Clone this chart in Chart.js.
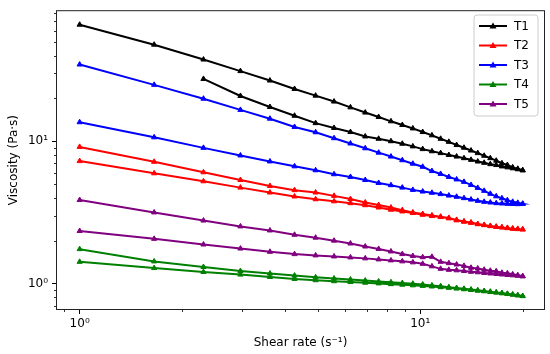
<!DOCTYPE html>
<html>
<head>
<meta charset="utf-8">
<script src="https://cdn.jsdelivr.net/npm/chart.js@4/dist/chart.umd.min.js"></script>
<style>
  html, body { margin: 0; padding: 0; background: #fff; }
  #wrap { width: 550px; height: 354px; }
</style>
</head>
<body>
<div id="wrap"><canvas id="c" width="550" height="354"></canvas></div>
<script>
// ---- data ----
const shearRate = [1.000, 1.655, 2.310, 2.966, 3.621, 4.276, 4.931, 5.586, 6.241, 6.897,
                   7.552, 8.207, 8.862, 9.517, 10.172, 10.828, 11.483, 12.138, 12.793, 13.448,
                   14.103, 14.759, 15.414, 16.069, 16.724, 17.379, 18.034, 18.690, 19.345, 20.000];

const seriesNames = ['T1', 'T2', 'T3', 'T4', 'T5'];

// upward sweep (increasing shear rate)
const t1Up = [65.9, 47.7, 37.5, 31.1, 26.7, 23.3, 20.9, 19.0, 17.3, 15.9, 14.8, 13.8, 13.0, 12.3, 11.6,
              11.0, 10.4, 9.9, 9.4, 9.0, 8.6, 8.25, 7.9, 7.6, 7.3, 7.0, 6.8, 6.55, 6.4, 6.25];
const t2Up = [9.12, 7.17, 6.05, 5.34, 4.85, 4.53, 4.36, 4.13, 3.92, 3.71, 3.56, 3.42, 3.28, 3.16, 3.08,
              3.01, 2.95, 2.89, 2.80, 2.73, 2.68, 2.62, 2.58, 2.54, 2.51, 2.48, 2.46, 2.43, 2.42, 2.40];
const t3Up = [34.6, 24.9, 19.9, 16.6, 14.4, 12.6, 11.56, 10.5, 9.64, 8.92, 8.31, 7.80, 7.35, 6.95, 6.61,
              6.17, 5.89, 5.61, 5.39, 5.18, 4.93, 4.70, 4.48, 4.27, 4.10, 3.97, 3.85, 3.75, 3.69, 3.63];
const t4Up = [1.744, 1.43, 1.306, 1.224, 1.174, 1.137, 1.106, 1.085, 1.066, 1.049, 1.034, 1.021, 1.008, 0.997, 0.984,
              0.970, 0.958, 0.942, 0.930, 0.918, 0.907, 0.895, 0.885, 0.875, 0.865, 0.856, 0.846, 0.837, 0.826, 0.816];
const t5Up = [3.86, 3.16, 2.77, 2.52, 2.36, 2.20, 2.10, 2.00, 1.91, 1.82, 1.75, 1.68, 1.61, 1.56, 1.53,
              1.54, 1.42, 1.39, 1.36, 1.33, 1.29, 1.275, 1.25, 1.23, 1.22, 1.19, 1.18, 1.16, 1.145, 1.125];

// downward sweep (listed at the same shear rates, low to high)
const t1Down = [null, null, 27.4, 20.8, 17.4, 15.1, 13.4, 12.4, 11.6, 10.8, 10.4, 10.0, 9.6, 9.2, 8.8,
                8.5, 8.25, 8.0, 7.8, 7.6, 7.4, 7.2, 7.05, 6.9, 6.8, 6.65, 6.55, 6.45, 6.35, 6.25];
const t2Down = [7.25, 5.95, 5.23, 4.72, 4.36, 4.09, 3.91, 3.78, 3.67, 3.55, 3.42, 3.30, 3.21, 3.13, 3.04,
                2.98, 2.93, 2.87, 2.78, 2.72, 2.67, 2.61, 2.57, 2.53, 2.50, 2.48, 2.45, 2.43, 2.41, 2.40];
const t3Down = [13.6, 10.65, 8.98, 7.94, 7.21, 6.66, 6.25, 5.86, 5.61, 5.34, 5.09, 4.91, 4.72, 4.55, 4.43,
                4.34, 4.25, 4.15, 4.07, 3.98, 3.89, 3.81, 3.75, 3.71, 3.67, 3.65, 3.63, 3.62, 3.61, 3.63];
const t4Down = [1.42, 1.284, 1.205, 1.155, 1.112, 1.077, 1.054, 1.038, 1.024, 1.013, 1.002, 0.990, 0.981, 0.971, 0.962,
                0.953, 0.942, 0.932, 0.921, 0.911, 0.901, 0.891, 0.882, 0.873, 0.864, 0.854, 0.845, 0.835, 0.826, 0.816];
const t5Down = [2.34, 2.06, 1.88, 1.76, 1.67, 1.609, 1.576, 1.550, 1.526, 1.502, 1.477, 1.454, 1.431, 1.408, 1.375,
                1.320, 1.268, 1.248, 1.238, 1.224, 1.209, 1.199, 1.186, 1.176, 1.167, 1.157, 1.148, 1.141, 1.132, 1.125];

const seriesColors = ['#000000', '#ff0000', '#0000ff', '#008000', '#800080'];

// axis ticks
const xMajorTicks = [1, 10];
const xMinorTicks = [0.9, 2, 3, 4, 5, 6, 7, 8, 9, 20];
const yMajorTicks = [1, 10];
const yMinorTicks = [0.7, 0.8, 0.9, 2, 3, 4, 5, 6, 7, 8, 9, 20, 30, 40, 50, 60, 70, 80];
const tickLabelText = { 1: '10\u2070', 10: '10\u00B9' };

const xTitle = 'Shear rate (s\u207B\u00B9)';
const yTitle = 'Viscosity (Pa\u00B7s)';

// ---- build datasets: each series is one loop (up sweep then down sweep) ----
const ups = [t1Up, t2Up, t3Up, t4Up, t5Up];
const downs = [t1Down, t2Down, t3Down, t4Down, t5Down];

function loopPoints(up, down) {
  const pts = up.map((y, i) => ({ x: shearRate[i], y: y }));
  for (let i = down.length - 1; i >= 0; i--) {
    if (down[i] !== null) pts.push({ x: shearRate[i], y: down[i] });
  }
  return pts;
}

const datasets = seriesNames.map((name, s) => ({
  label: name,
  data: loopPoints(ups[s], downs[s]),
  borderColor: seriesColors[s],
  backgroundColor: seriesColors[s],
  pointBackgroundColor: seriesColors[s],
  pointBorderColor: seriesColors[s],
  borderWidth: 2,
  pointStyle: 'triangle',
  pointRadius: 3,
  pointBorderWidth: 1,
  tension: 0,
  fill: false
}));

const FONT = 'DejaVu Sans';

const framePlugin = {
  id: 'frame',
  afterDraw(chart) {
    const { ctx, chartArea: a, scales } = chart;
    ctx.save();
    // minor ticks
    ctx.strokeStyle = '#000';
    ctx.lineWidth = 0.8;
    ctx.beginPath();
    xMinorTicks.forEach(v => {
      const px = Math.round(scales.x.getPixelForValue(v)) + 0.5;
      ctx.moveTo(px, a.bottom); ctx.lineTo(px, a.bottom + 3);
    });
    yMinorTicks.forEach(v => {
      const py = Math.round(scales.y.getPixelForValue(v)) + 0.5;
      ctx.moveTo(a.left, py); ctx.lineTo(a.left - 3, py);
    });
    ctx.stroke();
    // frame
    ctx.lineWidth = 1;
    ctx.strokeStyle = '#222';
    ctx.strokeRect(a.left - 0.5, a.top - 0.5, a.right - a.left + 1, a.bottom - a.top + 1);

    // legend (upper right, inside the axes)
    const bx = 474, by = 15, bw = 64, bh = 101, r = 3;
    ctx.beginPath();
    ctx.moveTo(bx + r, by);
    ctx.lineTo(bx + bw - r, by); ctx.quadraticCurveTo(bx + bw, by, bx + bw, by + r);
    ctx.lineTo(bx + bw, by + bh - r); ctx.quadraticCurveTo(bx + bw, by + bh, bx + bw - r, by + bh);
    ctx.lineTo(bx + r, by + bh); ctx.quadraticCurveTo(bx, by + bh, bx, by + bh - r);
    ctx.lineTo(bx, by + r); ctx.quadraticCurveTo(bx, by, bx + r, by);
    ctx.closePath();
    ctx.fillStyle = 'rgba(255,255,255,0.8)';
    ctx.fill();
    ctx.strokeStyle = '#cccccc';
    ctx.lineWidth = 1;
    ctx.stroke();

    ctx.font = '12px "' + FONT + '"';
    ctx.textBaseline = 'middle';
    ctx.textAlign = 'left';
    chart.data.datasets.forEach((ds, i) => {
      const cy = 26 + i * 19.5;
      ctx.strokeStyle = ds.borderColor;
      ctx.lineWidth = 2;
      ctx.beginPath();
      ctx.moveTo(479, cy); ctx.lineTo(507, cy);
      ctx.stroke();
      ctx.fillStyle = ds.borderColor;
      ctx.beginPath();
      ctx.moveTo(493, cy - 3.5); ctx.lineTo(496.5, cy + 2.5); ctx.lineTo(489.5, cy + 2.5);
      ctx.closePath(); ctx.fill();
      ctx.fillStyle = '#000';
      ctx.fillText(ds.label, 514, cy + 0.5);
    });
    ctx.restore();
  }
};

new Chart(document.getElementById('c'), {
  type: 'line',
  data: { datasets: datasets },
  options: {
    responsive: false,
    animation: false,
    devicePixelRatio: 1,
    layout: { padding: { top: 9, right: 6, left: 0, bottom: 0 } },
    plugins: { legend: { display: false }, tooltip: { enabled: false } },
    scales: {
      x: {
        type: 'logarithmic',
        min: 0.858, max: 23.1,
        afterFit(scale) { scale.height = 45; },
        afterBuildTicks(scale) { scale.ticks = xMajorTicks.map(v => ({ value: v, major: true })); },
        ticks: {
          autoSkip: false, maxRotation: 0, padding: 3, color: '#000',
          font: { family: FONT, size: 12 },
          callback: (v) => tickLabelText[v] || ''
        },
        grid: { display: true, drawOnChartArea: false, drawTicks: true, tickLength: 5, tickColor: '#000', tickWidth: 1 },
        border: { display: false },
        title: { display: true, text: xTitle, color: '#000', font: { family: FONT, size: 12 }, padding: { top: 0, bottom: 4 } }
      },
      y: {
        type: 'logarithmic',
        min: 0.662, max: 82,
        afterFit(scale) { scale.width = 57; },
        afterBuildTicks(scale) { scale.ticks = yMajorTicks.map(v => ({ value: v, major: true })); },
        ticks: {
          autoSkip: false, padding: 4, color: '#000',
          font: { family: FONT, size: 12 },
          callback: (v) => tickLabelText[v] || ''
        },
        grid: { display: true, drawOnChartArea: false, drawTicks: true, tickLength: 5, tickColor: '#000', tickWidth: 1 },
        border: { display: false },
        title: { display: true, text: yTitle, color: '#000', font: { family: FONT, size: 12 }, padding: { top: 7, bottom: 0 } }
      }
    }
  },
  plugins: [framePlugin]
});
</script>
</body>
</html>
